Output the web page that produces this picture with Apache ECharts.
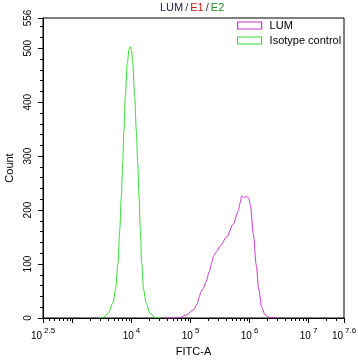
<!DOCTYPE html>
<html>
<head>
<meta charset="utf-8">
<script src="https://cdn.jsdelivr.net/npm/echarts@6/dist/echarts.min.js"></script>
<style>html,body{margin:0;padding:0;background:#fff}#c{width:358px;height:361px}</style>
</head>
<body>
<div id="c"></div>
<script>
// x values are log10(FITC-A)
var lumX = [4.567, 4.736, 4.821, 4.935, 5.047, 5.104, 5.148, 5.177, 5.216, 5.262, 5.318, 5.358, 5.389, 5.443, 5.499, 5.612, 5.724, 5.809, 5.838, 5.867, 5.911, 5.951, 5.990, 6.016, 6.063, 6.114, 6.156, 6.206, 6.261, 6.346, 6.460];
var lumY = [0, 0, 1, 6, 15, 24, 39, 49, 55, 67, 86, 102, 115, 123, 133, 150, 174, 198, 213, 226, 223, 226, 221, 208, 156, 98, 52, 20, 6, 1, 0];
var isoX = [3.466, 3.517, 3.606, 3.686, 3.728, 3.771, 3.800, 3.827, 3.850, 3.872, 3.894, 3.928, 3.957, 3.979, 3.999, 4.020, 4.054, 4.081, 4.105, 4.127, 4.149, 4.172, 4.206, 4.245, 4.313, 4.398, 4.482];
var isoY = [0, 1, 9, 28, 52, 102, 163, 225, 287, 348, 410, 472, 497, 503, 497, 472, 410, 348, 287, 225, 163, 102, 52, 28, 9, 1, 0];
var xLabelExps = [2.5, 4, 5, 6, 7, 7.6];
var xMajorTicks = [2.5, 3, 4, 5, 6, 7, 7.6];
var yLabels = [0, 100, 200, 300, 400, 500, 556];
var seriesNames = ['LUM', 'Isotype control'];
var colors = ['#cc33cc', '#33dd33'];

function zip(a, b) { return a.map(function (v, i) { return [v, b[i]]; }); }
var xMinor = [];
for (var n = 2; n <= 7; n++) {
  for (var k = 2; k <= 9; k++) {
    var v = n + Math.log10(k);
    if (v > 2.5 && v < 7.6) xMinor.push(v);
  }
}
var yMinor = [];
for (var y = 0; y <= 556; y += 20) yMinor.push(y);

var chart = echarts.init(document.getElementById('c'));
var font = 'Liberation Sans, Arial, sans-serif';
chart.setOption({
  animation: false,
  textStyle: { fontFamily: font },
  title: {
    text: '{a|LUM}{d|/}{b|E1}{d|/}{c|E2}',
    left: 160, top: 2, padding: 0,
    textStyle: {
      fontSize: 11, fontWeight: 'normal', fontFamily: font,
      rich: {
        a: { color: '#2a2040', fontSize: 11, fontFamily: font },
        b: { color: '#cc1111', fontSize: 11, fontFamily: font },
        c: { color: '#228b22', fontSize: 11, fontFamily: font },
        d: { color: '#333', fontSize: 11, fontFamily: font, padding: [0, 2, 0, 2] }
      }
    }
  },
  legend: {
    orient: 'vertical', left: 237, top: 20, itemGap: 4, padding: 0,
    itemWidth: 24, itemHeight: 7,
    textStyle: { fontSize: 11, color: '#000', fontFamily: font, padding: [0, 0, 0, 3] },
    data: [
      { name: seriesNames[0], icon: 'rect', itemStyle: { color: '#fff', borderColor: colors[0], borderWidth: 1.2 } },
      { name: seriesNames[1], icon: 'rect', itemStyle: { color: '#fff', borderColor: colors[1], borderWidth: 1.2 } }
    ]
  },
  grid: { left: 43, right: 14, top: 18, bottom: 43, show: true, borderColor: '#000', borderWidth: 1, containLabel: false, outerBoundsMode: 'none' },
  xAxis: [{
    type: 'value', min: 2.5, max: 7.6,
    name: 'FITC-A', nameLocation: 'middle', nameGap: 28,
    nameTextStyle: { fontSize: 11, color: '#000', fontFamily: font },
    splitLine: { show: false },
    axisLine: { show: true, lineStyle: { color: '#000', width: 1 } },
    axisTick: { show: true, length: 5, customValues: xMajorTicks, lineStyle: { color: '#000' } },
    axisLabel: {
      customValues: xLabelExps, margin: 9, color: '#000',
      formatter: function (v) { return '{b|10}{s|' + (Math.round(v) === v ? v : v.toFixed(1)) + '}'; },
      rich: {
        b: { fontSize: 10, color: '#000', fontFamily: font, lineHeight: 14, verticalAlign: 'bottom' },
        s: { fontSize: 8, color: '#000', fontFamily: font, lineHeight: 9, verticalAlign: 'top', padding: [0, 0, 0, 2] }
      }
    }
  }, {
    type: 'value', min: 2.5, max: 7.6, position: 'bottom', gridIndex: 0,
    splitLine: { show: false },
    axisLine: { show: false },
    axisTick: { show: true, length: 3, customValues: xMinor, lineStyle: { color: '#000' } },
    axisLabel: { show: false }
  }],
  yAxis: [{
    type: 'value', min: 0, max: 556,
    name: 'Count', nameLocation: 'middle', nameGap: 28,
    nameTextStyle: { fontSize: 11, color: '#000', fontFamily: font },
    splitLine: { show: false },
    axisLine: { show: true, lineStyle: { color: '#000', width: 1 } },
    axisTick: { show: true, length: 5, customValues: yLabels, lineStyle: { color: '#000' } },
    axisLabel: { customValues: yLabels, rotate: 90, margin: 10, fontSize: 10, color: '#000', fontFamily: font }
  }, {
    type: 'value', min: 0, max: 556, position: 'left',
    splitLine: { show: false },
    axisLine: { show: false },
    axisTick: { show: true, length: 3, customValues: yMinor, lineStyle: { color: '#000' } },
    axisLabel: { show: false }
  }],
  series: [{
    name: seriesNames[0], type: 'line', data: zip(lumX, lumY),
    showSymbol: false, smooth: 0.3, smoothMonotone: 'x',
    lineStyle: { color: colors[0], width: 1 }, itemStyle: { color: colors[0] }
  }, {
    name: seriesNames[1], type: 'line', data: zip(isoX, isoY),
    showSymbol: false, smooth: 0.3, smoothMonotone: 'x',
    lineStyle: { color: colors[1], width: 1 }, itemStyle: { color: colors[1] }
  }]
});
</script>
</body>
</html>
